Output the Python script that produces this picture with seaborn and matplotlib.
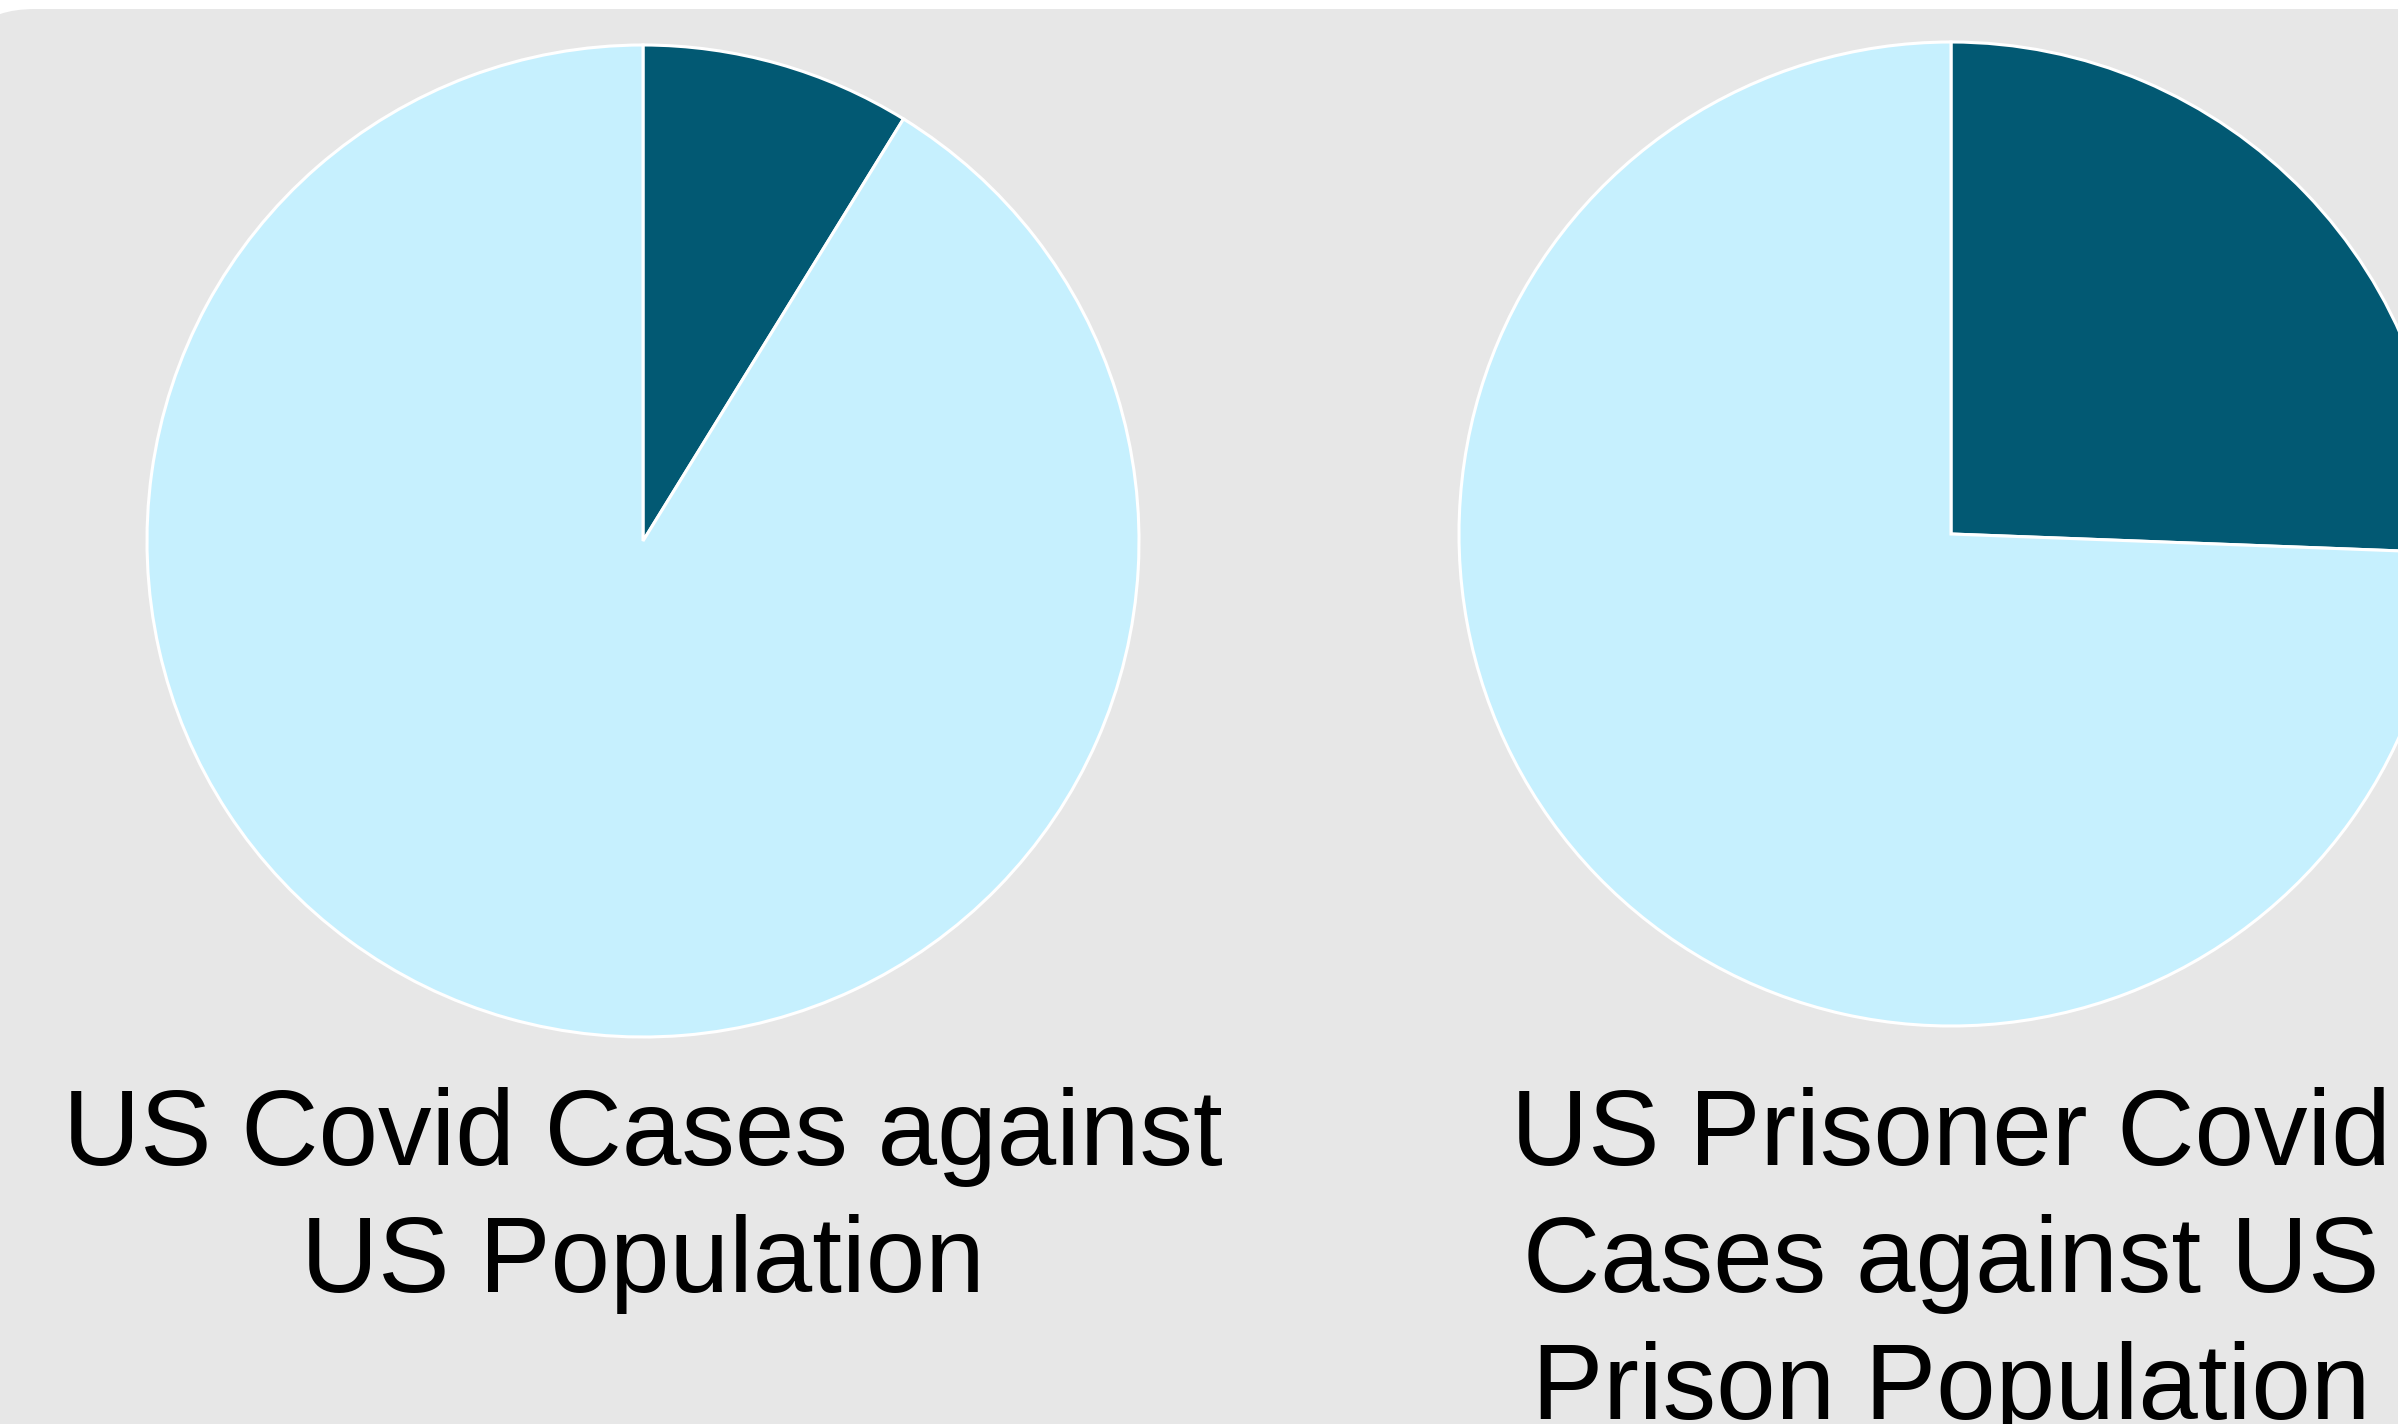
import matplotlib
matplotlib.use("Agg")
import matplotlib.pyplot as plt
import seaborn as sns
from matplotlib.patches import FancyBboxPatch
from matplotlib.transforms import IdentityTransform

# ---- data ----
categories = ["Covid cases", "Rest of population"]
us_population_shares = [8.8, 91.2]
prison_population_shares = [25.6, 74.4]
titles = [
    ["US Covid Cases against", "US Population"],
    ["US Prisoner Covid", "Cases against US", "Prison Population"],
]
pie_colors = ["#025973", "#C6F0FE"]

sns.set_theme(style="white")
plt.rcParams["font.family"] = ["Liberation Sans", "DejaVu Sans"]

W, H, DPI = 2398, 1424, 100
fig = plt.figure(figsize=(W / DPI, H / DPI), dpi=DPI, facecolor="white")

# rounded grey panel (pixel coords, origin bottom-left)
panel = FancyBboxPatch((-45, -200), W + 300, H - 9 + 200,
                       boxstyle="round,pad=0,rounding_size=80",
                       transform=IdentityTransform(),
                       facecolor="#E7E7E7", edgecolor="none", zorder=-10)
fig.patches.append(panel)

def add_pie(cx, cy, r, values, title_lines, baseline0):
    ax = fig.add_axes([(cx - r) / W, (H - cy - r) / H, 2 * r / W, 2 * r / H])
    ax.set_zorder(5)
    ax.patch.set_visible(False)
    ax.pie(values, colors=pie_colors, startangle=90, counterclock=False,
           wedgeprops=dict(edgecolor="white", linewidth=2.2),
           labels=None)
    ax.set_xlim(-1, 1)
    ax.set_ylim(-1, 1)
    ax.set_aspect("equal")
    ax.axis("off")
    for i, line in enumerate(title_lines):
        y = baseline0 + i * 127
        fig.text(cx / W, (H - y) / H, line, ha="center", va="baseline",
                 fontsize=77, color="black", zorder=6)

add_pie(643, 541, 496, us_population_shares, titles[0], 1165)
add_pie(1951, 534, 492, prison_population_shares, titles[1], 1165)

fig.savefig("out.png", dpi=DPI, facecolor="white")
